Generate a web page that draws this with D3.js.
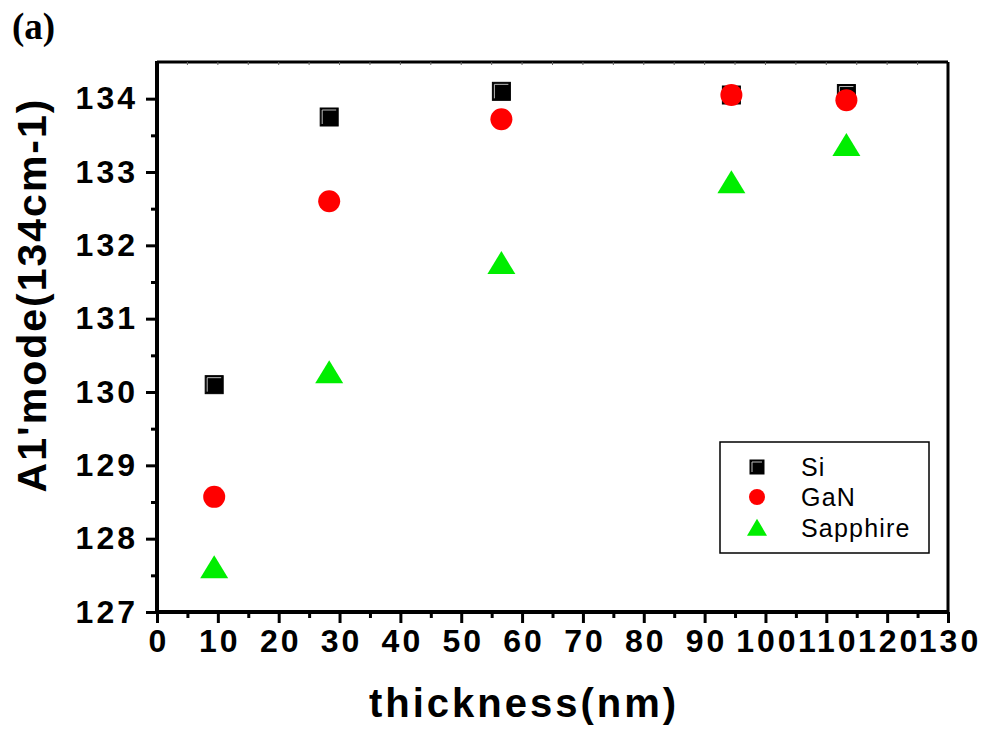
<!DOCTYPE html>
<html><head><meta charset="utf-8">
<script src="https://cdn.jsdelivr.net/npm/d3@7"></script>
<style>body{margin:0;background:#fff}</style>
</head><body>
<svg id="c" width="982" height="729"></svg>
<script>
const seriesNames = ["Si", "GaN", "Sapphire"];
const thickness = [9.4, 28.3, 56.6, 94.4, 113.3];
const siValues = [130.10, 133.75, 134.10, 134.05, 134.07];
const ganValues = [128.57, 132.60, 133.72, 134.05, 133.98];
const sapphireValues = [127.60, 130.26, 131.75, 132.85, 133.36];
const xTicks = [0,10,20,30,40,50,60,70,80,90,100,110,120,130];
const yTicks = [127,128,129,130,131,132,133,134];

const svg = d3.select("#c");
const L = 157, R = 948, T = 62, B = 612;
const x = d3.scaleLinear().domain([0,130]).range([L,R]);
const y = d3.scaleLinear().domain([127,134.5]).range([B,T]);
const font = "Arial, 'Liberation Sans', sans-serif";

// frame top/right
svg.append("line").attr("x1",L).attr("x2",R).attr("y1",T).attr("y2",T).attr("stroke","#000").attr("stroke-width",3);
svg.append("line").attr("x1",R).attr("x2",R).attr("y1",T).attr("y2",B).attr("stroke","#000").attr("stroke-width",3);
d3.range(5,130,5).forEach(v=>{
  svg.append("line").attr("x1",x(v)).attr("x2",x(v)).attr("y1",T).attr("y2",T+3).attr("stroke","#666").attr("stroke-width",1);
});

// x axis
const xAxis = d3.axisBottom(x).tickValues(xTicks).tickSize(11).tickPadding(6).tickFormat(d3.format("d"));
const gx = svg.append("g").attr("transform",`translate(0,${B})`).call(xAxis);
gx.select(".domain").attr("stroke-width",4).attr("d",`M${L-2},0H${R+1}`);
gx.selectAll(".tick line").attr("stroke-width",3);
gx.selectAll(".tick text").attr("font-family",font).attr("font-weight","bold").attr("font-size",32).attr("letter-spacing","3px").attr("dx","1.5px").attr("fill","#000").attr("dy","0.72em");
const gxm = svg.append("g").attr("transform",`translate(0,${B})`).call(d3.axisBottom(x).tickValues(d3.range(5,130,10)).tickSize(6).tickFormat(""));
gxm.select(".domain").remove();
gxm.selectAll(".tick line").attr("stroke-width",3);

// y axis
const yAxis = d3.axisLeft(y).tickValues(yTicks).tickSize(11).tickPadding(8).tickFormat(d3.format("d"));
const gy = svg.append("g").attr("transform",`translate(${L},0)`).call(yAxis);
gy.select(".domain").attr("stroke-width",4).attr("d",`M0,${B+2}V${T-1}`);
gy.selectAll(".tick line").attr("stroke-width",3);
gy.selectAll(".tick text").attr("font-family",font).attr("font-weight","bold").attr("font-size",32).attr("letter-spacing","3px").attr("fill","#000");
const gym = svg.append("g").attr("transform",`translate(${L},0)`).call(d3.axisLeft(y).tickValues(d3.range(127.5,134.5,1)).tickSize(6).tickFormat(""));
gym.select(".domain").remove();
gym.selectAll(".tick line").attr("stroke-width",3);

// titles
svg.append("text").attr("x",524).attr("y",717).attr("text-anchor","middle")
  .attr("font-family",font).attr("font-weight","bold").attr("font-size",40).attr("letter-spacing","3px").text("thickness(nm)");
svg.append("text").attr("transform","translate(46,295) rotate(-90)").attr("text-anchor","middle")
  .attr("font-family",font).attr("font-weight","bold").attr("font-size",41).attr("letter-spacing","2px").text("A1'mode(134cm-1)");
svg.append("text").attr("x",12).attr("y",39).attr("font-family","'Times New Roman','Liberation Serif',serif")
  .attr("font-weight","bold").attr("font-size",37).text("(a)");

// markers
function drawMarker(g, type, s){
  if(type===0){
    g.append("rect").attr("x",-s.sq/2).attr("y",-s.sq/2).attr("width",s.sq).attr("height",s.sq).attr("fill","#000").attr("stroke","#000").attr("stroke-width",1);
    g.append("path").attr("d",`M${-s.sq/2+2},${s.sq/2-2}V${-s.sq/2+2}H${s.sq/2-2}`).attr("fill","none").attr("stroke","#bbb").attr("stroke-width",1);
  } else if(type===1){
    g.append("circle").attr("r",s.c).attr("fill","#ff0000");
  } else {
    const w=s.tw, h=s.th;
    g.append("path").attr("d",`M0,${-h*0.55}L${w/2},${h*0.45}L${-w/2},${h*0.45}Z`).attr("fill","#00ee00");
  }
}
const big = {sq:18, c:11, tw:28, th:23};
const small = {sq:14, c:8, tw:20, th:17};
const allSeries = [siValues, ganValues, sapphireValues];
allSeries.forEach((vals,i)=>{
  vals.forEach((v,j)=>{
    const g = svg.append("g").attr("transform",`translate(${x(thickness[j])},${y(v)})`);
    drawMarker(g,i,big);
  });
});

// legend
svg.append("rect").attr("x",720).attr("y",442).attr("width",209).attr("height",111).attr("fill","#fff").attr("stroke","#000").attr("stroke-width",1.5);
const ly = [467,497,528];
seriesNames.forEach((n,i)=>{
  const g = svg.append("g").attr("transform",`translate(757,${ly[i]})`);
  drawMarker(g,i,small);
  svg.append("text").attr("x",801).attr("y",ly[i]+9).attr("font-family",font).attr("font-size",25).attr("letter-spacing","1.2px").text(n);
});
</script>
</body></html>
